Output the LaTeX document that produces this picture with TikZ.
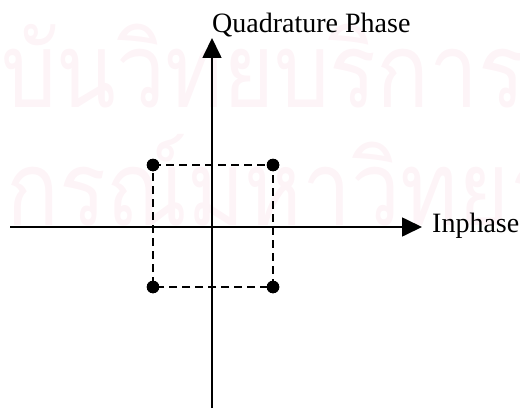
\documentclass[tikz,border=0pt]{standalone}
\usepackage{fontspec}
\setmainfont{Liberation Serif}
\newfontfamily\thaifont[Script=Thai,FakeStretch=0.84]{Loma}
\usetikzlibrary{arrows.meta}
\definecolor{wmpink}{RGB}{253,244,247}
\tikzset{
  axis/.style={line width=1.7pt,-{Triangle[length=20pt,width=19pt]}},
  dashline/.style={line width=1.9pt,dash pattern=on 8pt off 5pt},
  dot/.style={circle,fill=black,inner sep=0pt,minimum size=12.5pt},
  lbl/.style={font=\fontsize{28}{30}\selectfont,inner sep=0pt},
  wm/.style={font=\thaifont\fontsize{104}{104}\selectfont,text=wmpink,inner sep=0pt}
}
\begin{document}
\begin{tikzpicture}[x=1pt,y=-1pt]
\useasboundingbox (0,0) rectangle (520,412);
\begin{scope}
\clip (0,0) rectangle (520,412);
\node[wm,anchor=base west] (wm1) at (1,108) {\llap{สถา}บันวิทยบริการ};
\node[wm,anchor=base west] (wm2) at (6,225) {\llap{จุฬาลง}กรณ์มหาวิทยาลัย};
\end{scope}
\coordinate (xs) at (10,227);
\coordinate (xe) at (422,227);
\coordinate (ys) at (212,408);
\coordinate (ye) at (212,38);
\draw[axis] (xs) -- (xe);
\draw[axis] (ys) -- (ye);
\node[dot] (p1) at (153,165) {};
\node[dot] (p2) at (273,165) {};
\node[dot] (p3) at (153,287) {};
\node[dot] (p4) at (273,287) {};
\draw[dashline] (p1.center) -- (p2.center) -- (p4.center) -- (p3.center) -- cycle;
\node[dot] at (p1) {};
\node[dot] at (p2) {};
\node[dot] at (p3) {};
\node[dot] at (p4) {};
\node[lbl,anchor=base west] (ql) at (212,33) {Quadrature Phase};
\node[lbl,anchor=base west] (il) at (432,232) {Inphase};
\end{tikzpicture}
\end{document}
